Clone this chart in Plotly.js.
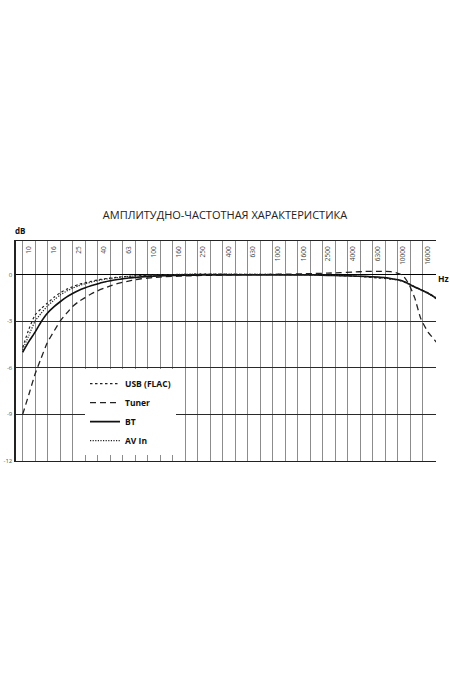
<!DOCTYPE html>
<html>
<head>
<meta charset="utf-8">
<script src="https://cdn.plot.ly/plotly-3.0.1.min.js"></script>
<style>
  html, body { margin: 0; padding: 0; background: #ffffff; }
  #chart { width: 450px; height: 675px; }
</style>
</head>
<body>
<div id="chart"></div>
<script>
// ---- data ----
const freqHz = [8.9, 10, 11.2, 12.5, 14, 16, 17.8, 20, 22.4, 25, 28, 31.5, 35.5, 40, 45, 50, 56, 63, 71, 80, 90, 100, 125, 160, 200, 250, 315, 400, 500, 630, 800, 1000, 1250, 1600, 2000, 2500, 3150, 4000, 5000, 6300, 7100, 8000, 9000, 10000, 11200, 12500, 14000, 16000, 18000, 18600];

const usbFlac = [-4.7, -3.5, -2.6, -2.2, -1.85, -1.45, -1.17, -0.95, -0.78, -0.64, -0.54, -0.44, -0.35, -0.28, -0.22, -0.18, -0.14, -0.11, -0.08, -0.06, -0.04, -0.03, -0.01, 0.0, 0.02, 0.03, 0.03, 0.02, 0.02, 0.01, 0.01, 0.0, 0.0, -0.01, -0.02, -0.04, -0.07, -0.1, -0.15, -0.22, -0.25, -0.29, -0.34, -0.44, -0.6, -0.78, -0.96, -1.18, -1.42, -1.52];

const tuner = [-9.0, -7.7, -6.4, -5.4, -4.4, -3.6, -3.0, -2.5, -2.05, -1.75, -1.5, -1.25, -1.05, -0.88, -0.73, -0.6, -0.51, -0.42, -0.34, -0.27, -0.23, -0.19, -0.14, -0.1, -0.08, -0.05, -0.04, -0.02, -0.01, 0.0, 0.0, 0.02, 0.03, 0.05, 0.07, 0.09, 0.12, 0.16, 0.2, 0.2, 0.2, 0.19, 0.1, -0.05, -0.6, -1.5, -2.85, -3.7, -4.2, -4.35];

const bt = [-5.0, -4.3, -3.7, -3.05, -2.5, -2.05, -1.75, -1.45, -1.22, -1.02, -0.86, -0.72, -0.6, -0.48, -0.4, -0.33, -0.28, -0.22, -0.19, -0.15, -0.13, -0.1, -0.07, -0.05, -0.04, -0.03, -0.03, -0.03, -0.02, -0.02, -0.02, -0.02, -0.03, -0.03, -0.03, -0.05, -0.07, -0.09, -0.12, -0.16, -0.19, -0.25, -0.32, -0.42, -0.6, -0.8, -0.98, -1.2, -1.45, -1.55];

const avIn = [-4.85, -3.9, -3.0, -2.5, -2.05, -1.62, -1.32, -1.07, -0.88, -0.72, -0.6, -0.49, -0.39, -0.31, -0.25, -0.2, -0.16, -0.12, -0.09, -0.07, -0.05, -0.03, -0.01, 0.01, 0.02, 0.03, 0.03, 0.03, 0.02, 0.02, 0.01, 0.01, 0.0, 0.0, -0.02, -0.05, -0.06, -0.09, -0.13, -0.18, -0.22, -0.27, -0.33, -0.43, -0.62, -0.8, -1.0, -1.22, -1.47, -1.57];

const seriesNames = ["USB (FLAC)", "Tuner", "BT", "AV In"];

// frequency tick labels (one per two 1/3-octave bands)
const tickLabels = ["10", "16", "25", "40", "63", "100", "160", "250", "400", "630", "1000", "1600", "2500", "4000", "6300", "10000", "16000"];
const tickFreqs = [10, 16, 25, 40, 63, 100, 160, 250, 400, 630, 1000, 1600, 2500, 4000, 6300, 10000, 16000];

// band edges (1/3 octave) for vertical grid lines
const bandEdges = [];
for (let k = 0; k <= 33; k++) bandEdges.push(10 * Math.pow(2, (k - 0.5) / 3));

const dbTicks = [0, -3, -6, -9, -12];
const dbTickText = ["0", "-3", "-6", "-9", "-12"];

const FONT = "Open Sans, Liberation Sans, DejaVu Sans, sans-serif";

const traces = [
  { x: freqHz, y: usbFlac, name: seriesNames[0], mode: "lines",
    line: { color: "#222", width: 1.2, dash: "2.5px,2.5px", shape: "spline", smoothing: 0.5 } },
  { x: freqHz, y: tuner, name: seriesNames[1], mode: "lines",
    line: { color: "#222", width: 1.3, dash: "6px,4px", shape: "spline", smoothing: 0.5 } },
  { x: freqHz, y: bt, name: seriesNames[2], mode: "lines",
    line: { color: "#111", width: 1.6, shape: "spline", smoothing: 0.5 } },
  { x: freqHz, y: avIn, name: seriesNames[3], mode: "lines",
    line: { color: "#222", width: 1.2, dash: "1.2px,1.4px", shape: "spline", smoothing: 0.5 } }
];

const layout = {
  width: 450, height: 675,
  paper_bgcolor: "#fff", plot_bgcolor: "#fff",
  margin: { l: 16, r: 14, t: 241, b: 214, pad: 0 },
  font: { family: FONT, color: "#222" },
  showlegend: true,
  title: {
    text: "АМПЛИТУДНО-ЧАСТОТНАЯ ХАРАКТЕРИСТИКА",
    font: { family: FONT, size: 11, color: "#222" },
    x: 0.5, xanchor: "center", y: 1 - 215 / 675, yanchor: "middle"
  },
  xaxis: {
    type: "log",
    range: [Math.log10(7.87), Math.log10(10 * Math.pow(2, 10.855))],
    side: "top",
    tickmode: "array", tickvals: tickFreqs, ticktext: tickLabels,
    ticklabelposition: "inside",
    tickangle: -90,
    tickfont: { family: FONT, size: 6.5, color: "#444" },
    ticks: "",
    showgrid: false,
    minor: { tickmode: "array", tickvals: bandEdges, showgrid: true, gridcolor: "#8c8c8c", gridwidth: 1, ticks: "" },
    showline: true, mirror: true, linecolor: "#222", linewidth: 1.2,
    zeroline: false, fixedrange: true
  },
  yaxis: {
    range: [-12, 2.16],
    tickmode: "array", tickvals: dbTicks, ticktext: dbTickText,
    tickfont: { family: FONT, size: 6, color: "#555" },
    ticks: "",
    showgrid: true, gridcolor: "#2a2a2a", gridwidth: 1.2,
    zeroline: true, zerolinecolor: "#000", zerolinewidth: 1.8,
    showline: true, linecolor: "#222", linewidth: 2.5,
    fixedrange: true
  },
  legend: {
    x: (85 - 16) / 420, y: (461 - 369) / 220.3, xanchor: "left", yanchor: "top",
    bgcolor: "#ffffff", borderwidth: 0,
    font: { family: FONT, size: 8.5, color: "#111", weight: "bold" },
    traceorder: "normal"
  },
  annotations: [
    { text: "dB", xref: "paper", yref: "paper", x: (20 - 16) / 420, y: (461 - 230) / 220.3,
      showarrow: false, xanchor: "center", yanchor: "middle",
      font: { family: FONT, size: 8, color: "#111", weight: "bold" } },
    { text: "Hz", xref: "paper", yref: "paper", x: (443 - 16) / 420, y: (461 - 278.5) / 220.3,
      showarrow: false, xanchor: "center", yanchor: "middle",
      font: { family: FONT, size: 8.5, color: "#111", weight: "bold" } }
  ]
};

Plotly.newPlot("chart", traces, layout, { staticPlot: true, displayModeBar: false });
</script>
</body>
</html>
